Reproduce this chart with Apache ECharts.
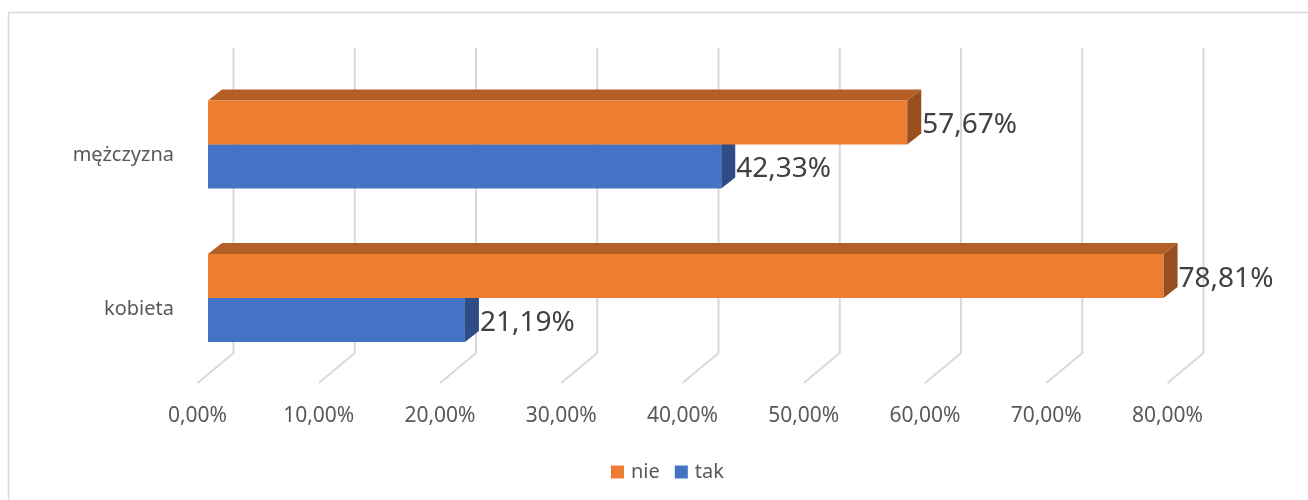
<!DOCTYPE html>
<html>
<head>
<meta charset="utf-8">
<script src="https://cdn.jsdelivr.net/npm/echarts@6/dist/echarts.min.js"></script>
<style>
html,body{margin:0;padding:0;background:#fff;}
#chart{width:1308px;height:500px;}
</style>
</head>
<body>
<div id="chart"></div>
<script>
// ---- data ----
const categories = ['kobieta', 'mężczyzna'];
const nieValues = [78.81, 57.67];
const takValues = [21.19, 42.33];
const tickValues = [0, 10, 20, 30, 40, 50, 60, 70, 80];

// ---- layout / style constants ----
const FONT = '"Noto Sans", "Open Sans", sans-serif';
const BAR_FRONT_OFF = 10.5;   // bar front face offset from floor-front x
const BACK_OFF = 36;          // back wall offset from floor-front x
const DEPTH_DX = 14, DEPTH_DY = -11;
const GRID_TOP_Y = 48, BACK_BOTTOM_Y = 353, FRONT_BOTTOM_Y = 383;
const BAR_RATIO = 44 / 153.5;

function fmt(v) { return v.toFixed(2).replace('.', ',') + '%'; }

function barRenderer(pos, front, top, side) {
  return function (params, api) {
    const cat = api.value(1);
    const val = api.value(0);
    const end = api.coord([val, cat]);
    const start = api.coord([0, cat]);
    const band = api.size([0, 1])[1];
    const h = band * BAR_RATIO;
    const y0 = pos === 'top' ? end[1] - h : end[1];
    const l = start[0] + BAR_FRONT_OFF;
    const r = end[0] + BAR_FRONT_OFF;
    return {
      type: 'group',
      children: [
        { type: 'polygon', shape: { points: [[l, y0], [l + DEPTH_DX, y0 + DEPTH_DY], [r + DEPTH_DX, y0 + DEPTH_DY], [r, y0]] }, style: { fill: top } },
        { type: 'rect', shape: { x: l, y: y0, width: r - l, height: h }, style: { fill: front } },
        { type: 'polygon', shape: { points: [[r, y0], [r + DEPTH_DX, y0 + DEPTH_DY], [r + DEPTH_DX, y0 + h + DEPTH_DY], [r, y0 + h]] }, style: { fill: side } },
        { type: 'text', style: { text: fmt(val), x: r + DEPTH_DX + 1, y: y0 + h / 2 + 3, fill: '#404040', fontSize: 28, fontFamily: FONT, align: 'left', verticalAlign: 'middle' } }
      ]
    };
  };
}

const chart = echarts.init(document.getElementById('chart'), null, { renderer: 'canvas' });
chart.setOption({
  backgroundColor: '#fff',
  animation: false,
  graphic: [{
    type: 'rect', z: -10,
    shape: { x: 8.5, y: 12.5, width: 1400, height: 600 },
    style: { fill: 'none', stroke: '#D9D9D9', lineWidth: 1.5 }
  }],
  grid: { left: 197.5, right: 140.5, top: 67.75, bottom: 125.25, containLabel: false },
  xAxis: {
    type: 'value', min: 0, max: 80, interval: 10,
    axisLine: { show: false }, axisTick: { show: false }, splitLine: { show: false },
    axisLabel: { formatter: v => fmt(v), color: '#595959', fontSize: 21, fontFamily: FONT, margin: 31, lineHeight: 21 }
  },
  yAxis: {
    type: 'category', data: categories,
    axisLine: { show: false }, axisTick: { show: false }, splitLine: { show: false },
    axisLabel: { color: '#595959', fontSize: 20, fontFamily: FONT, margin: 23.5, verticalAlign: 'top', lineHeight: 22 }
  },
  legend: {
    data: ['nie', 'tak'],
    left: 611, top: 462, padding: 0,
    icon: 'rect', itemWidth: 13, itemHeight: 13, itemGap: 15,
    textStyle: { color: '#595959', fontSize: 20, fontFamily: FONT, padding: [0, 0, 0, 2], lineHeight: 20 }
  },
  series: [
    {
      type: 'custom', name: 'grid', silent: true, clip: false, z: 1,
      data: tickValues.map(v => [v, 0]),
      renderItem: function (params, api) {
        const x = api.coord([api.value(0), 0])[0];
        return {
          type: 'polyline',
          shape: { points: [[x + BACK_OFF, GRID_TOP_Y], [x + BACK_OFF, BACK_BOTTOM_Y], [x, FRONT_BOTTOM_Y]] },
          style: { stroke: '#D9D9D9', lineWidth: 2, fill: null }
        };
      }
    },
    {
      type: 'custom', name: 'tak', clip: false, z: 2,
      itemStyle: { color: '#4472C4' },
      data: takValues.map((v, i) => [v, i]),
      renderItem: barRenderer('bottom', '#4472C4', '#3A62A8', '#2E4D87')
    },
    {
      type: 'custom', name: 'nie', clip: false, z: 3,
      itemStyle: { color: '#ED7D31' },
      data: nieValues.map((v, i) => [v, i]),
      renderItem: barRenderer('top', '#ED7D31', '#B45F26', '#9A4F1E')
    }
  ]
});
</script>
</body>
</html>
